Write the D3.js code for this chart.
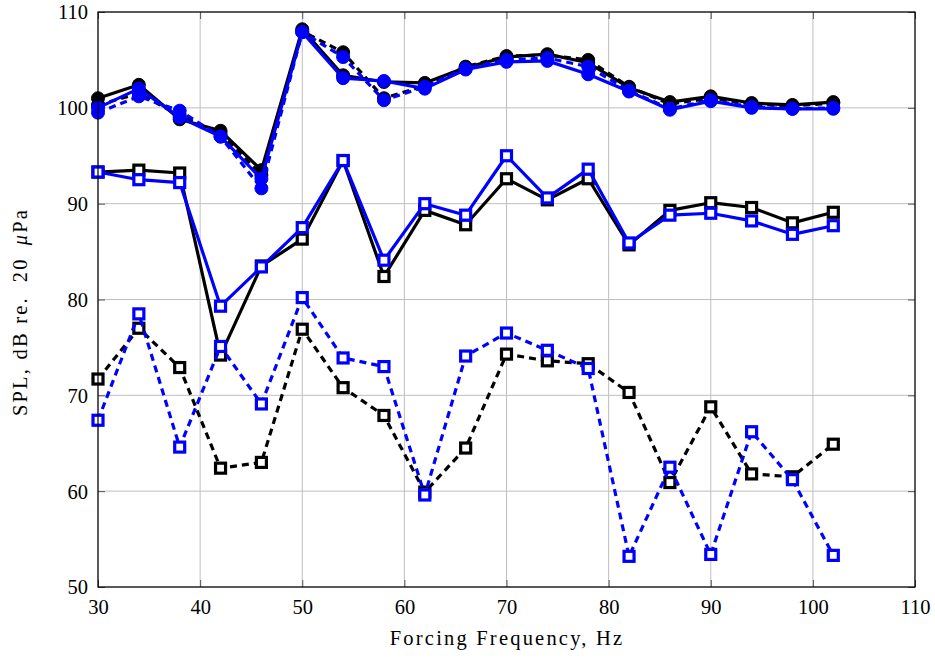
<!DOCTYPE html>
<html>
<head>
<meta charset="utf-8">
<script src="https://cdn.jsdelivr.net/npm/d3@7/dist/d3.min.js"></script>
<style>
    html, body { margin: 0; padding: 0; background: #fff; }
    svg { display: block; font-family: "Liberation Serif", "DejaVu Serif", serif; }
</style>
</head>
<body>
<svg id="chart"></svg>
<script>
// Data
const freq = [30, 34, 38, 42, 46, 50, 54, 58, 62, 66, 70, 74, 78, 82, 86, 90, 94, 98, 102];

const blackCircleSolid = [101.0, 102.4, 98.8, 97.6, 93.5, 108.2, 103.4, 102.7, 102.6, 104.2, 105.3, 105.6, 104.7, 102.1, 100.6, 101.2, 100.5, 100.3, 100.6];
const blackCircleDash  = [100.3, 101.5, 99.2, 97.3, 93.0, 108.0, 105.8, 101.0, 102.3, 104.3, 105.4, 105.5, 105.0, 102.2, 100.4, 101.0, 100.4, 100.2, 100.5];
const blueCircleSolid  = [100.0, 102.0, 99.0, 97.0, 92.6, 107.9, 103.1, 102.8, 102.0, 104.0, 104.8, 104.9, 103.5, 101.7, 99.8, 100.7, 100.0, 99.9, 99.9];
const blueCircleDash   = [99.5, 101.2, 99.7, 97.0, 91.6, 107.9, 105.3, 100.8, 102.2, 104.1, 105.0, 105.2, 104.3, 101.8, 99.9, 100.8, 100.1, 99.9, 100.0];

const blackSquareSolid = [93.3, 93.5, 93.2, 74.2, 83.5, 86.3, 94.5, 82.4, 89.3, 87.8, 92.6, 90.4, 92.6, 85.7, 89.3, 90.1, 89.6, 88.0, 89.1];
const blueSquareSolid  = [93.3, 92.5, 92.2, 79.3, 83.4, 87.5, 94.5, 84.1, 90.0, 88.8, 95.0, 90.6, 93.6, 85.9, 88.8, 89.0, 88.2, 86.8, 87.7];
const blackSquareDash  = [71.7, 77.0, 72.9, 62.4, 63.0, 76.9, 70.8, 67.9, 59.9, 64.5, 74.3, 73.6, 73.3, 70.3, 60.9, 68.8, 61.8, 61.5, 64.9];
const blueSquareDash   = [67.4, 78.5, 64.6, 75.1, 69.1, 80.2, 73.9, 73.0, 59.6, 74.1, 76.5, 74.7, 72.8, 53.2, 62.5, 53.4, 66.2, 61.2, 53.3];

const xTicks = [30, 40, 50, 60, 70, 80, 90, 100, 110];
const yTicks = [50, 60, 70, 80, 90, 100, 110];

// drawing order: black first, blue on top
const series = [
    { values: blackCircleSolid, color: '#000', dashed: false, marker: 'circle' },
    { values: blackCircleDash,  color: '#000', dashed: true,  marker: 'circle' },
    { values: blackSquareSolid, color: '#000', dashed: false, marker: 'square' },
    { values: blackSquareDash,  color: '#000', dashed: true,  marker: 'square' },
    { values: blueCircleSolid,  color: '#0000ff', dashed: false, marker: 'circle' },
    { values: blueCircleDash,   color: '#0000ff', dashed: true,  marker: 'circle' },
    { values: blueSquareSolid,  color: '#0000ff', dashed: false, marker: 'square' },
    { values: blueSquareDash,   color: '#0000ff', dashed: true,  marker: 'square' }
];

const width = 935, height = 658;
const margin = { left: 98, right: 20, top: 12, bottom: 71 };

const svg = d3.select('#chart')
    .attr('width', width)
    .attr('height', height);

const x = d3.scaleLinear().domain([30, 110]).range([margin.left, width - margin.right]);
const y = d3.scaleLinear().domain([50, 110]).range([height - margin.bottom, margin.top]);

const x0 = x.range()[0], x1 = x.range()[1];
const y0 = y.range()[0], y1 = y.range()[1];

// Grid
const grid = svg.append('g').attr('class', 'grid');
grid.selectAll('line.gx').data(xTicks).enter().append('line')
    .attr('x1', d => x(d)).attr('x2', d => x(d))
    .attr('y1', y0).attr('y2', y1)
    .attr('stroke', '#bfbfbf').attr('stroke-width', 1);
grid.selectAll('line.gy').data(yTicks).enter().append('line')
    .attr('x1', x0).attr('x2', x1)
    .attr('y1', d => y(d)).attr('y2', d => y(d))
    .attr('stroke', '#bfbfbf').attr('stroke-width', 1);

// Axes (ticks pointing inward on all four sides)
const tickLen = 7;
const fontSize = 20.5;

const bottomAxis = svg.append('g')
    .attr('transform', `translate(0,${y0})`)
    .call(d3.axisBottom(x).tickValues(xTicks).tickSizeInner(-tickLen).tickSizeOuter(0).tickPadding(12));
const topAxis = svg.append('g')
    .attr('transform', `translate(0,${y1})`)
    .call(d3.axisTop(x).tickValues(xTicks).tickSizeInner(-tickLen).tickSizeOuter(0).tickFormat(''));
const leftAxis = svg.append('g')
    .attr('transform', `translate(${x0},0)`)
    .call(d3.axisLeft(y).tickValues(yTicks).tickSizeInner(-tickLen).tickSizeOuter(0).tickPadding(10));
const rightAxis = svg.append('g')
    .attr('transform', `translate(${x1},0)`)
    .call(d3.axisRight(y).tickValues(yTicks).tickSizeInner(-tickLen).tickSizeOuter(0).tickFormat(''));

[bottomAxis, topAxis, leftAxis, rightAxis].forEach(a => {
    a.select('.domain').remove();
    a.selectAll('.tick line').attr('stroke', '#555').attr('stroke-width', 1);
    a.selectAll('.tick text')
        .attr('font-family', '"Liberation Serif", "DejaVu Serif", serif')
        .attr('font-size', fontSize)
        .attr('fill', '#000');
});
leftAxis.selectAll('.tick text').attr('dy', '0.34em');

// Series
const plot = svg.append('g').attr('class', 'series');
const line = d3.line().x((d, i) => x(freq[i])).y(d => y(d));

series.forEach(s => {
    const g = plot.append('g');
    g.append('path')
        .datum(s.values)
        .attr('d', line)
        .attr('fill', 'none')
        .attr('stroke', s.color)
        .attr('stroke-width', 3.2)
        .attr('stroke-linejoin', 'round')
        .attr('stroke-dasharray', s.dashed ? '7,5' : null);

    if (s.marker === 'circle') {
        g.selectAll('circle').data(s.values).enter().append('circle')
            .attr('cx', (d, i) => x(freq[i]))
            .attr('cy', d => y(d))
            .attr('r', 6.5)
            .attr('fill', s.color)
            .attr('stroke', s.color)
            .attr('stroke-width', 1);
    } else {
        const size = 10;
        g.selectAll('rect').data(s.values).enter().append('rect')
            .attr('x', (d, i) => x(freq[i]) - size / 2)
            .attr('y', d => y(d) - size / 2)
            .attr('width', size)
            .attr('height', size)
            .attr('fill', '#fff')
            .attr('stroke', s.color)
            .attr('stroke-width', 3.2);
    }
});

// Frame
svg.append('rect')
    .attr('x', x0).attr('y', y1)
    .attr('width', x1 - x0).attr('height', y0 - y1)
    .attr('fill', 'none')
    .attr('stroke', '#000')
    .attr('stroke-width', 1.2);

// Axis labels
svg.append('text')
    .attr('x', 507)
    .attr('y', 645)
    .attr('text-anchor', 'middle')
    .attr('font-size', fontSize)
    .attr('letter-spacing', 2.2)
    .text('Forcing Frequency, Hz');

const yl = svg.append('text')
    .attr('transform', 'translate(27,312) rotate(-90)')
    .attr('text-anchor', 'middle')
    .attr('font-size', fontSize)
    .attr('letter-spacing', 2.2);
yl.append('tspan').text('SPL, dB re.');
yl.append('tspan').attr('dx', 14).text('20');
yl.append('tspan').attr('dx', 12).attr('font-style', 'italic').text('μ');
yl.append('tspan').text('Pa');
</script>
</body>
</html>
